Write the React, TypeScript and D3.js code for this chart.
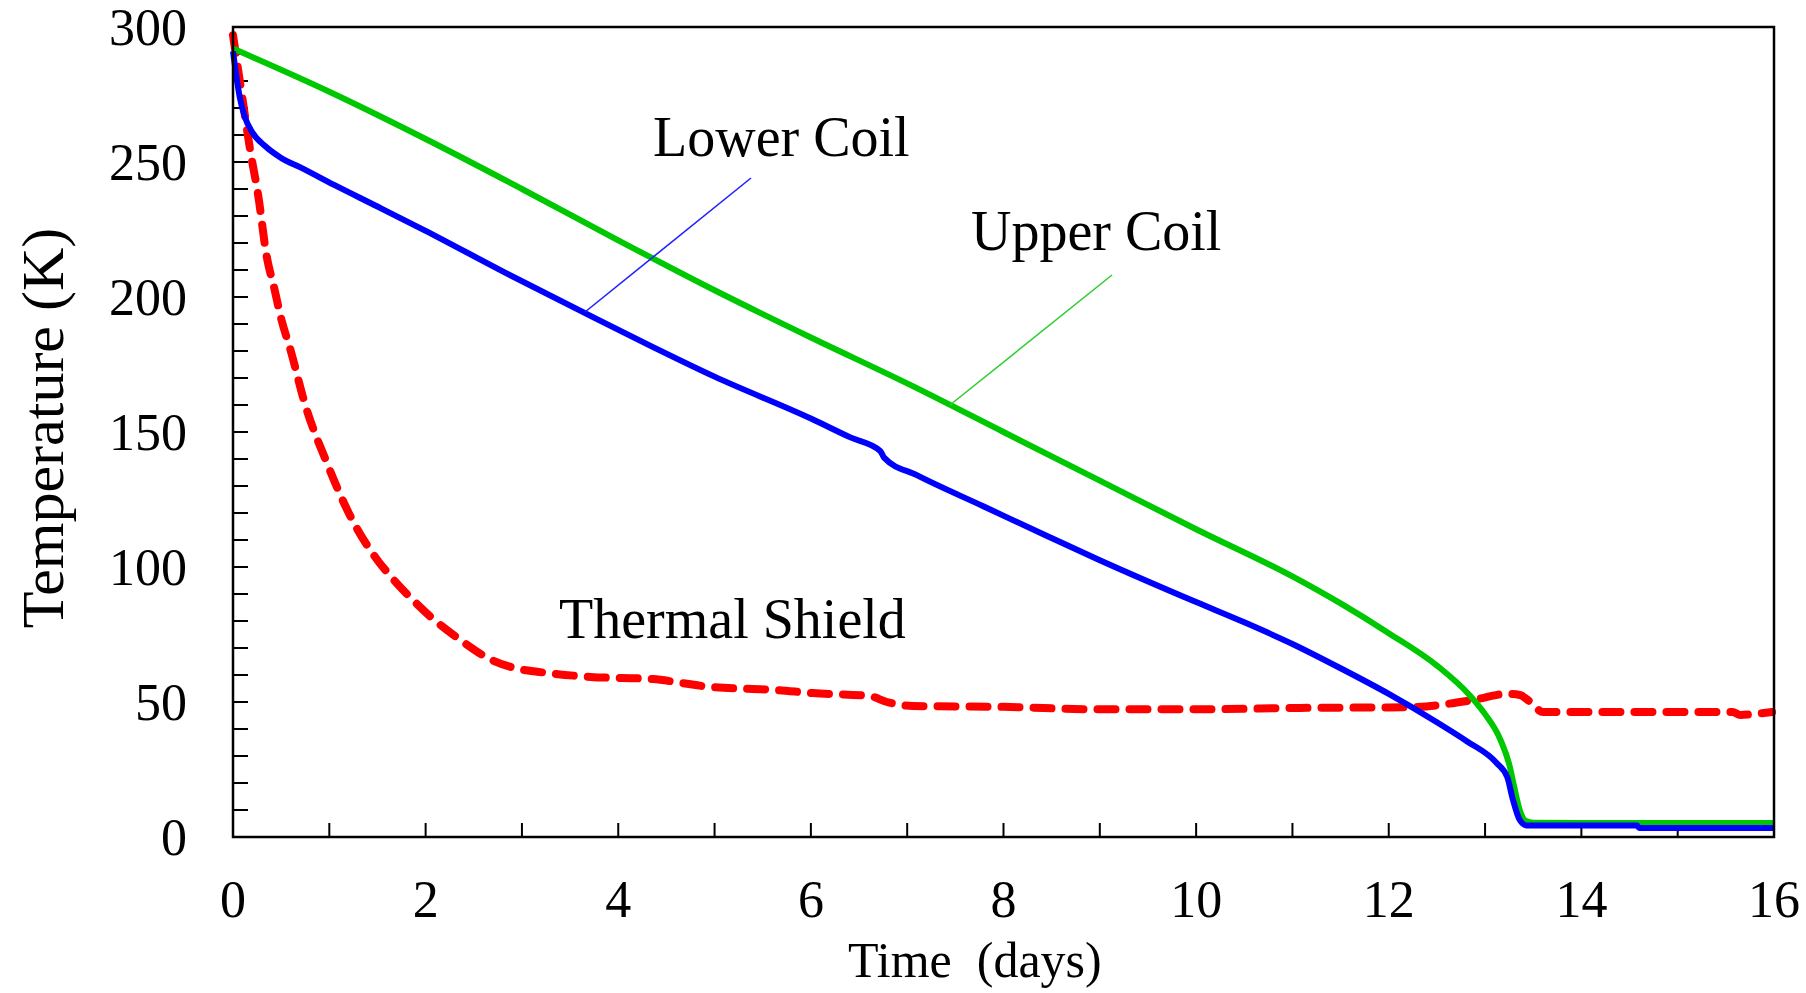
import React from "react";
import * as d3 from "d3";

// ---- data ----
const upperDays = [0, 1, 2, 3, 4, 5, 6, 7, 8, 9, 10, 11, 11.5, 12, 12.5, 12.84, 13.0, 13.16, 13.25, 13.3, 13.36, 13.42, 13.5, 14, 16];
const upperTemp = [292, 276, 258.5, 240, 221, 202.5, 185, 168, 150, 132, 114, 96.5, 86.5, 75.5, 63.5, 52.5, 45.5, 36, 27, 19, 10, 6, 5.3, 5.2, 5.2];

const lowerDays = [0, 0.03, 0.07, 0.12, 0.2, 0.33, 0.5, 0.7, 1.05, 1.5, 2.0, 2.8, 3.63, 4.33, 5, 6, 6.41, 6.72, 6.76, 7.1, 7.79, 8.48, 9, 10, 10.5, 11, 11.5, 12, 12.5, 12.81, 13.12, 13.23, 13.29, 13.36, 13.43, 14.58, 14.6, 16];
const lowerTemp = [291, 283, 274, 267, 261, 256, 251.5, 248, 241.5, 233.5, 224.5, 209.5, 194.5, 182, 170.5, 155, 148, 143, 140.5, 134, 122.5, 111, 102.5, 87, 79.5, 71.5, 62.5, 53, 42.5, 35.5, 27.4, 22.2, 13.7, 6.3, 4.3, 4.3, 3.3, 3.3];

const shieldDays = [0, 0.05, 0.1, 0.18, 0.26, 0.35, 0.43, 0.5, 0.6, 0.75, 0.97, 1.23, 1.47, 1.65, 1.89, 2.07, 2.36, 2.66, 3.0, 3.16, 3.71, 4.36, 4.67, 4.95, 5.65, 6.02, 6.61, 6.79, 7.06, 8, 9, 10, 11.08, 12.22, 12.87, 13.23, 13.36, 13.47, 13.6, 15.23, 15.57, 15.65, 15.78, 15.98];
const shieldTemp = [297, 285, 273, 254, 238, 215, 203, 192, 180, 160, 139, 118, 104, 96, 87, 81, 73, 66, 62, 61.2, 59.3, 58.5, 57, 55.6, 54.4, 53.3, 52.2, 50, 48.5, 48.2, 47.3, 47.3, 47.8, 48.1, 50.7, 53, 52.6, 50, 46.3, 46.3, 46.3, 45.2, 45.5, 46.3];

const xTickLabels = [0, 2, 4, 6, 8, 10, 12, 14, 16];
const yTickLabels = [0, 50, 100, 150, 200, 250, 300];

const FONT = '"Liberation Serif", "Times New Roman", serif';

export default function App() {
  const W = 1806, H = 993;
  const left = 233, right = 1774, top = 27, bottom = 837;
  const x = d3.scaleLinear().domain([0, 16]).range([left, right]);
  const y = d3.scaleLinear().domain([0, 300]).range([bottom, top]);

  const mk = (ds: number[], ts: number[]) =>
    d3.line<number>().x((_, i) => x(ds[i])).y((t) => y(t)).curve(d3.curveMonotoneX)(ts) || "";

  const xMinor = d3.range(1, 16, 1);
  const yMinor = d3.range(10, 300, 10);

  return (
    <svg width={W} height={H} style={{ position: "absolute", left: 0, top: 0, background: "#fff" }} fontFamily={FONT}>
      <rect x={0} y={0} width={W} height={H} fill="#fff" />
      {/* ticks */}
      {xMinor.map((d) => (
        <line key={"xt" + d} x1={x(d)} x2={x(d)} y1={bottom} y2={bottom - 14} stroke="#000" strokeWidth={2} />
      ))}
      {yMinor.map((v) => (
        <line key={"yt" + v} x1={left} x2={left + 15} y1={y(v)} y2={y(v)} stroke="#000" strokeWidth={2} />
      ))}
      {/* data */}
      <path d={mk(shieldDays, shieldTemp)} fill="none" stroke="#ff0000" strokeWidth={8} strokeDasharray="18 14" strokeLinecap="round" strokeLinejoin="round" />
      <path d={mk(upperDays, upperTemp)} fill="none" stroke="#00c800" strokeWidth={6} strokeLinejoin="round" />
      <path d={mk(lowerDays, lowerTemp)} fill="none" stroke="#0000ff" strokeWidth={6} strokeLinejoin="round" />
      {/* frame */}
      <rect x={left} y={top} width={right - left} height={bottom - top} fill="none" stroke="#000" strokeWidth={2.5} />
      {/* tick labels */}
      {xTickLabels.map((d) => (
        <text key={"xl" + d} x={x(d)} y={917} fontSize={52} textAnchor="middle" fill="#000">{d}</text>
      ))}
      {yTickLabels.map((v) => (
        <text key={"yl" + v} x={187} y={y(v) + 18} fontSize={52} textAnchor="end" fill="#000">{v}</text>
      ))}
      {/* axis titles */}
      <text x={848} y={977} fontSize={50} fill="#000" style={{ whiteSpace: "pre" }}>{"Time  (days)"}</text>
      <text transform="translate(63,428) rotate(-90)" fontSize={60} textAnchor="middle" fill="#000">Temperature (K)</text>
      {/* annotations */}
      <text x={653} y={156} fontSize={56} fill="#000">Lower Coil</text>
      <line x1={751} y1={178} x2={585} y2={312} stroke="#2222ff" strokeWidth={1.6} />
      <text x={971} y={250} fontSize={56} fill="#000">Upper Coil</text>
      <line x1={1112} y1={275} x2={950} y2={405} stroke="#33cc33" strokeWidth={1.6} />
      <text x={559} y={638} fontSize={56} fill="#000">Thermal Shield</text>
    </svg>
  );
}
